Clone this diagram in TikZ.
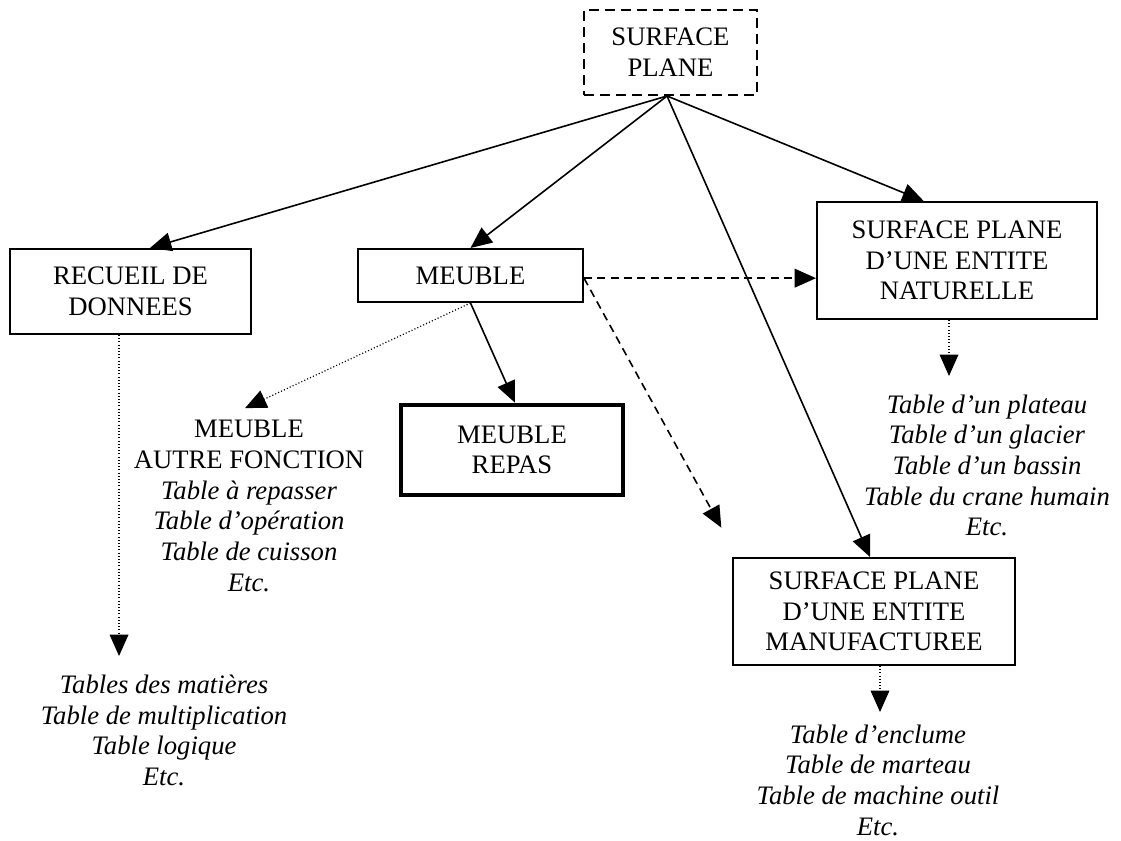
\documentclass[tikz,border=0pt]{standalone}
\usepackage{fontspec}
\setmainfont{Liberation Serif}
\usepackage{tikz}
\usetikzlibrary{arrows.meta,calc}
\newcommand{\diagfont}{\fontsize{20}{23}\selectfont}

\begin{document}
\begin{tikzpicture}[x=0.75pt,y=0.75pt,yscale=-1,xscale=1,
  box/.style={draw,line width=1.5pt,inner sep=0pt,align=center,font=\diagfont},
  listnode/.style={inner sep=0pt,align=center,font=\diagfont},
  arr/.style={line width=1.2pt,-{Triangle[length=16pt,width=14pt]}},
  dasharr/.style={arr,dash pattern=on 6pt off 4pt},
  dotarr/.style={arr,line width=0.9pt,dash pattern=on 0.8pt off 1.6pt}]
\useasboundingbox (0,0) rectangle (1121,841);

% Boxes
\node[box,dash pattern=on 7.5pt off 4.5pt,minimum width=129.75pt,minimum height=63.75pt] (plane) at (670.5,52.5) {SURFACE\\PLANE};
\node[box,minimum width=180.75pt,minimum height=63.75pt] (recueil) at (130.5,291.5) {RECUEIL DE\\DONNEES};
\node[box,minimum width=168.75pt,minimum height=39.75pt] (meuble) at (470.5,275.5) {MEUBLE};
\node[box,line width=3pt,minimum width=167pt,minimum height=68pt] (repas) at (512,450) {MEUBLE\\REPAS};
\node[box,minimum width=210pt,minimum height=87.75pt] (naturelle) at (957,260.5) {SURFACE PLANE\\D’UNE ENTITE\\NATURELLE};
\node[box,minimum width=211.5pt,minimum height=80.25pt] (manuf) at (874,611.5) {SURFACE PLANE\\D’UNE ENTITE\\MANUFACTUREE};

% Lists
\node[listnode] (autre) at (249,506) {MEUBLE\\AUTRE FONCTION\\\textit{Table à repasser}\\\textit{Table d’opération}\\\textit{Table de cuisson}\\\textit{Etc.}};
\node[listnode] (donnees) at (164,730.5) {\textit{Tables des matières}\\\textit{Table de multiplication}\\\textit{Table logique}\\\textit{Etc.}};
\node[listnode] (nat) at (987,465.5) {\textit{Table d’un plateau}\\\textit{Table d’un glacier}\\\textit{Table d’un bassin}\\\textit{Table du crane humain}\\\textit{Etc.}};
\node[listnode] (outil) at (878,780) {\textit{Table d’enclume}\\\textit{Table de marteau}\\\textit{Table de machine outil}\\\textit{Etc.}};

\coordinate (hub) at ([xshift=-2.6pt]plane.south);

% Arrows
\draw[arr] (hub) -- ([xshift=14.6pt]recueil.north);
\draw[arr] (hub) -- (meuble.north);
\draw[arr] (hub) -- ([xshift=-25pt]naturelle.north);
\draw[arr] (hub) -- ([xshift=-3pt]manuf.north);
\draw[arr] (meuble.south) -- ([xshift=2.2pt]repas.north);
\draw[dotarr] (meuble.south) -- ([xshift=-3pt,yshift=-9pt]autre.north);
\draw[dasharr] ([yshift=2pt]meuble.east) -- ([yshift=2pt]meuble.east -| naturelle.west);
\draw[dasharr] ([yshift=2pt]meuble.east) -- ([xshift=-8pt,yshift=-22pt]manuf.north west);
\draw[dotarr] ([xshift=-8.6pt]recueil.south) -- ([xshift=-8.6pt]recueil.south |- 0,656);
\draw[dotarr] ([xshift=-6pt]naturelle.south) -- ([xshift=-6pt]naturelle.south |- 0,376);
\draw[dotarr] ([xshift=4.5pt]manuf.south) -- ([xshift=4.5pt]manuf.south |- 0,712);

\end{tikzpicture}
\end{document}
